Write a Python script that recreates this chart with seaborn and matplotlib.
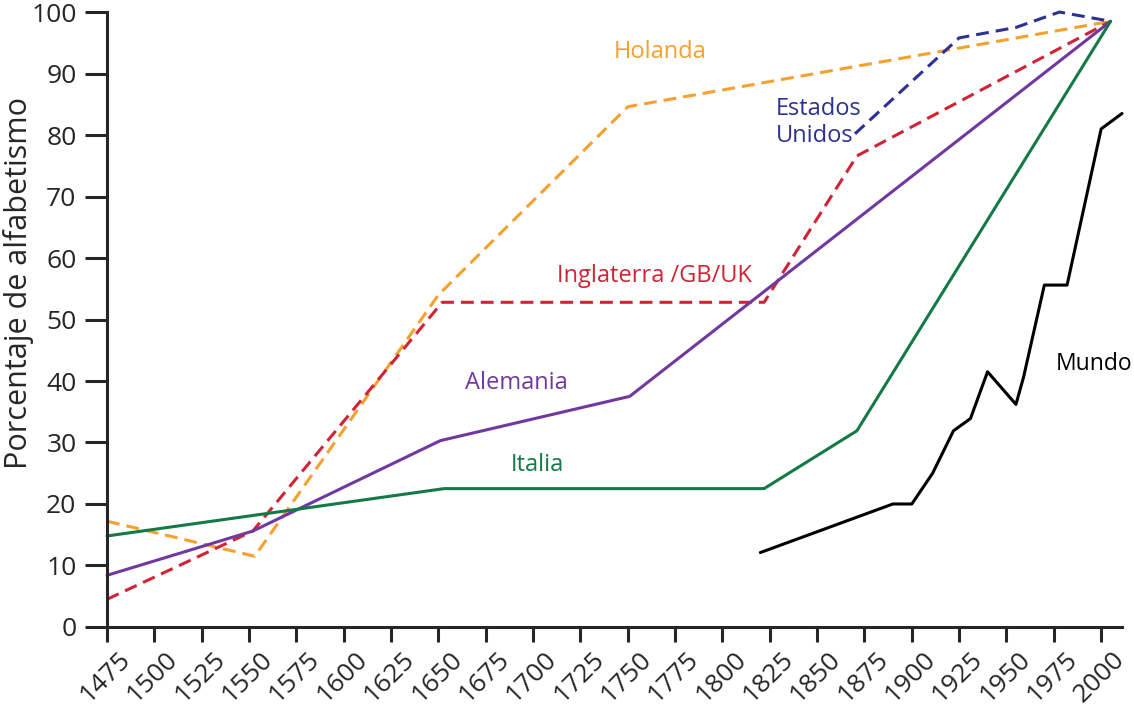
import matplotlib
matplotlib.use("Agg")
import matplotlib.pyplot as plt
import matplotlib.transforms as mtransforms
import seaborn as sns
import numpy as np
import pandas as pd

# estilo
sns.set_style("ticks")
plt.rcParams['font.family'] = ['Open Sans', 'DejaVu Sans']

# datos (año, % alfabetismo)
anios_holanda = [1475, 1553, 1650, 1750, 2005]
holanda = [17.2, 11.5, 54.0, 84.6, 98.5]

anios_inglaterra = [1475, 1552, 1652, 1822, 1871, 2005]
inglaterra = [4.5, 15.6, 52.8, 52.8, 76.6, 98.5]

anios_eeuu = [1870, 1925, 1955, 1978, 2005]
eeuu = [80.2, 95.8, 97.5, 100.0, 98.5]

anios_alemania = [1475, 1552, 1651, 1751, 2005]
alemania = [8.4, 15.6, 30.3, 37.5, 98.5]

anios_italia = [1475, 1653, 1822, 1871, 2005]
italia = [14.8, 22.5, 22.5, 31.9, 98.5]

anios_mundo = [1820, 1890, 1900, 1911, 1922, 1931, 1940, 1955, 1959, 1970, 1982, 2000, 2011]
mundo = [12.1, 20.0, 20.0, 25.0, 31.9, 33.9, 41.5, 36.2, 40.6, 55.6, 55.6, 81.0, 83.5]

xticks = list(range(1475, 2001, 25))
yticks = list(range(0, 101, 10))

# colores
c_holanda = "#F6A02D"
c_ingl = "#CF2436"
c_eeuu = "#2E3192"
c_alem = "#7138A0"
c_ital = "#137A47"
c_mundo = "#000000"

fig = plt.figure(figsize=(11.34, 7.09), dpi=100)
ax = fig.add_axes([0.0944, 0.1157, 0.8950, 0.8673])

discontinua = (0, (4.2, 2.3))
series = [
    (anios_holanda, holanda, c_holanda, discontinua),
    (anios_inglaterra, inglaterra, c_ingl, discontinua),
    (anios_eeuu, eeuu, c_eeuu, discontinua),
    (anios_alemania, alemania, c_alem, '-'),
    (anios_italia, italia, c_ital, '-'),
    (anios_mundo, mundo, c_mundo, '-'),
]
for xs, ys, col, ls in series:
    df = pd.DataFrame({'anio': xs, 'valor': ys})
    sns.lineplot(data=df, x='anio', y='valor', ax=ax, color=col,
                 linewidth=2.2, linestyle=ls, clip_on=False)

# etiquetas de las series
ax.text(1767, 93.5, "Holanda", color=c_holanda, fontsize=17, ha='center', va='center')
ax.text(1828, 82, "Estados\nUnidos", color=c_eeuu, fontsize=17, ha='left', va='center',
        linespacing=1.15)
ax.text(1764, 57.1, "Inglaterra /GB/UK", color=c_ingl, fontsize=17, ha='center', va='center')
ax.text(1691, 39.7, "Alemania", color=c_alem, fontsize=17, ha='center', va='center')
ax.text(1702, 26.3, "Italia", color=c_ital, fontsize=17, ha='center', va='center')
ax.text(1976, 42.8, "Mundo", color=c_mundo, fontsize=16.5, ha='left', va='center')

# ejes
ax.set_xlim(1475, 2011)
ax.set_ylim(0, 100)
ax.set_xticks(xticks)
ax.set_yticks(yticks)
ax.set_xlabel("")
ax.set_ylabel("Porcentaje de alfabetismo", fontsize=22)
ax.yaxis.set_label_coords(-0.072, 0.56)
sns.despine(ax=ax)
for s in ['left', 'bottom']:
    ax.spines[s].set_linewidth(2.2)
ax.tick_params(axis='y', length=16, width=2.2, pad=6, labelsize=19)
ax.tick_params(axis='x', length=11, width=2.2, pad=3, labelsize=19)

offset = mtransforms.ScaledTranslation(11 / 100, 0, fig.dpi_scale_trans)
for lab in ax.get_xticklabels():
    lab.set_rotation(45)
    lab.set_ha('right')
    lab.set_va('top')
    lab.set_rotation_mode('anchor')
    lab.set_transform(lab.get_transform() + offset)

fig.savefig("out.png", dpi=100)
